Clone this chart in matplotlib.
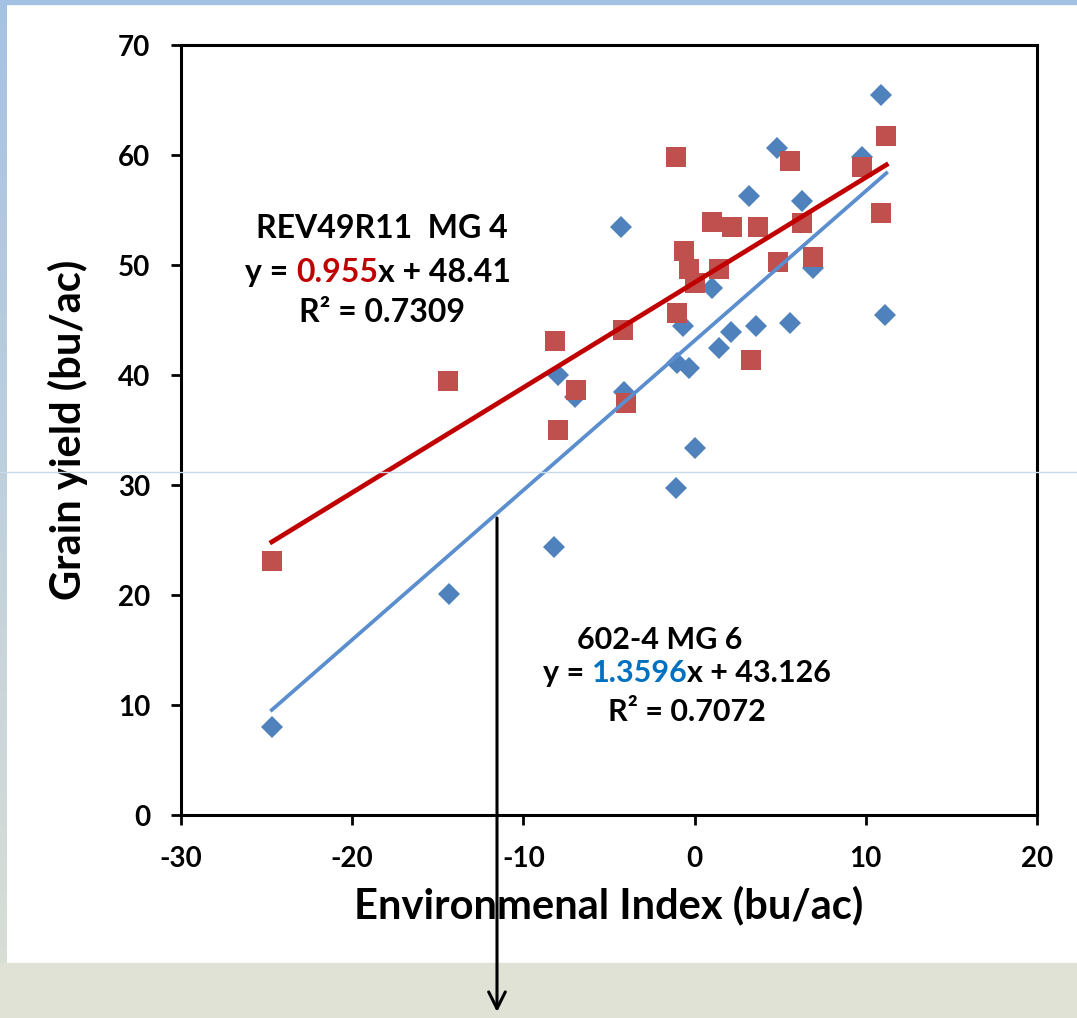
import matplotlib

matplotlib.use("Agg")
import matplotlib.pyplot as plt
import numpy as np
from matplotlib.patches import FancyArrowPatch, Rectangle


# Grain yield of two soybean lines against the environmental index.
# Values; trendline equations as printed on it.
FIG_W, FIG_H, DPI = 1077, 1018, 100

MG6_X = [-24.7, -14.35, -8.2, -8.0, -7.0, -4.3, -4.1, -1.1, -1.0, -0.7, -0.3, 0.0,
         1.0, 1.4, 2.1, 3.2, 3.6, 4.8, 5.6, 6.3, 6.9, 9.8, 10.9, 11.1]
MG6_Y = [8.0, 20.1, 24.4, 40.0, 38.0, 53.5, 38.5, 29.7, 41.1, 44.5, 40.6, 33.4,
         47.9, 42.5, 43.9, 56.3, 44.5, 60.6, 44.7, 55.8, 49.7, 59.8, 65.5, 45.5]

MG4_X = [-24.7, -14.4, -8.15, -8.0, -6.9, -4.2, -4.0, -1.1, -1.0, -0.6, -0.3, 0.0,
         1.0, 1.4, 2.2, 3.3, 3.7, 4.9, 5.6, 6.3, 6.9, 9.8, 10.9, 11.2]
MG4_Y = [23.1, 39.5, 43.1, 35.0, 38.6, 44.1, 37.5, 59.8, 45.6, 51.3, 49.6, 48.4,
         53.9, 49.6, 53.5, 41.4, 53.5, 50.3, 59.5, 53.8, 50.7, 58.9, 54.7, 61.7]

MG6_SLOPE, MG6_INTERCEPT, MG6_R2 = 1.3596, 43.126, 0.7072
MG4_SLOPE, MG4_INTERCEPT, MG4_R2 = 0.955, 48.41, 0.7309

X_TICKS = [-30, -20, -10, 0, 10, 20]
Y_TICKS = [0, 10, 20, 30, 40, 50, 60, 70]

BLUE = "#4f81bd"
RED = "#c0504d"
DARK_RED = "#c00000"
COEF_BLUE = "#0070c0"
FONT = ["Lato", "DejaVu Sans"]

plt.rcParams["font.family"] = FONT
plt.rcParams["font.weight"] = "bold"
plt.rcParams["axes.unicode_minus"] = False


def px(x, y):
    """Convert pixel position (from top-left) to figure fraction."""
    return x / FIG_W, 1 - y / FIG_H


def draw_label(fig, renderer, cx, cy, parts, size):
    """Lay out coloured pieces side by side and centre them at (cx, cy)."""
    texts = []
    for text, color in parts:
        t = fig.text(0, cy, text, color=color, fontsize=size, fontweight="bold",
                     ha="left", va="center")
        texts.append(t)
    widths = [t.get_window_extent(renderer).width for t in texts]
    left = cx * FIG_W - sum(widths) / 2
    for t, w in zip(texts, widths):
        t.set_x(left / FIG_W)
        left += w


def draw_frame(fig):
    """Slide decorations: blue border, grey bottom band, guide line, arrow."""
    strip = fig.add_axes([0, 55 / FIG_H, 7 / FIG_W, 1 - 55 / FIG_H])
    grad = np.linspace(0, 1, 256)[:, None, None]
    top = np.array([0.65, 0.76, 0.89])
    bottom = np.array([0.85, 0.87, 0.84])
    strip.imshow(top + grad * (bottom - top), aspect="auto")
    strip.axis("off")

    fig.patches.append(Rectangle((0, 1 - 4 / FIG_H), 1, 4 / FIG_H, color="#a3c1e2",
                                 transform=fig.transFigure, zorder=5))
    fig.patches.append(Rectangle((0, 0), 1, 55 / FIG_H, color="#e1e2d6",
                                 transform=fig.transFigure, zorder=5))

    fig.lines.append(plt.Line2D([0, 1], [1 - 472 / FIG_H] * 2, color="#c8dbea",
                                linewidth=1, transform=fig.transFigure, zorder=20))
    fig.add_artist(FancyArrowPatch(
        px(497, 518), px(497, 1012), transform=fig.transFigure,
        arrowstyle="->,head_length=12,head_width=6", color="black",
        linewidth=2.2, zorder=21, shrinkA=0, shrinkB=0))


def main() -> None:
    fig = plt.figure(figsize=(FIG_W / DPI, FIG_H / DPI), dpi=DPI, facecolor="white")
    ax = fig.add_axes([181 / FIG_W, 1 - 815 / FIG_H, 856 / FIG_W, 770 / FIG_H])

    x_line = np.array([min(MG6_X), max(MG6_X) + 0.1])
    ax.plot(x_line, MG4_SLOPE * x_line + MG4_INTERCEPT, color=DARK_RED,
            linewidth=3.4, zorder=4)
    ax.plot(x_line, MG6_SLOPE * x_line + MG6_INTERCEPT, color="#5a8ecf",
            linewidth=2.7, zorder=4)
    ax.plot(MG6_X, MG6_Y, linestyle="none", marker="D", markersize=11,
            color=BLUE, markeredgewidth=0, zorder=3)
    ax.plot(MG4_X, MG4_Y, linestyle="none", marker="s", markersize=14.5,
            color=RED, markeredgewidth=0, zorder=3)

    ax.set_xlim(-30, 20)
    ax.set_ylim(0, 70)
    ax.set_xticks(X_TICKS)
    ax.set_yticks(Y_TICKS)
    ax.tick_params(direction="out", length=7, width=2, labelsize=20)
    ax.tick_params(axis="x", pad=15)
    ax.tick_params(axis="y", pad=15)
    for label in ax.get_xticklabels() + ax.get_yticklabels():
        label.set_fontweight("bold")
    for spine in ax.spines.values():
        spine.set_linewidth(2.2)

    ax.set_xlabel("Environmenal Index (bu/ac)", fontsize=30, fontweight="bold",
                  labelpad=10)
    ax.set_ylabel("Grain yield (bu/ac)", fontsize=30, fontweight="bold",
                  labelpad=22)

    renderer = fig.canvas.get_renderer()
    draw_label(fig, renderer, *px(382, 228), [("REV49R11  MG 4", "black")], 23)
    draw_label(fig, renderer, *px(378, 272),
               [("y = ", "black"), (f"{MG4_SLOPE}", DARK_RED),
                (f"x + {MG4_INTERCEPT}", "black")], 23)
    draw_label(fig, renderer, *px(382, 313), [(f"R² = {MG4_R2}", "black")], 23)

    draw_label(fig, renderer, *px(660, 640), [("602-4 MG 6", "black")], 22)
    draw_label(fig, renderer, *px(687, 673),
               [("y = ", "black"), (f"{MG6_SLOPE}", COEF_BLUE),
                (f"x + {MG6_INTERCEPT}", "black")], 22)
    draw_label(fig, renderer, *px(687, 712), [(f"R² = {MG6_R2}", "black")], 22)

    draw_frame(fig)
    fig.savefig("out.png", dpi=DPI)
    plt.close(fig)


if __name__ == "__main__":
    main()
